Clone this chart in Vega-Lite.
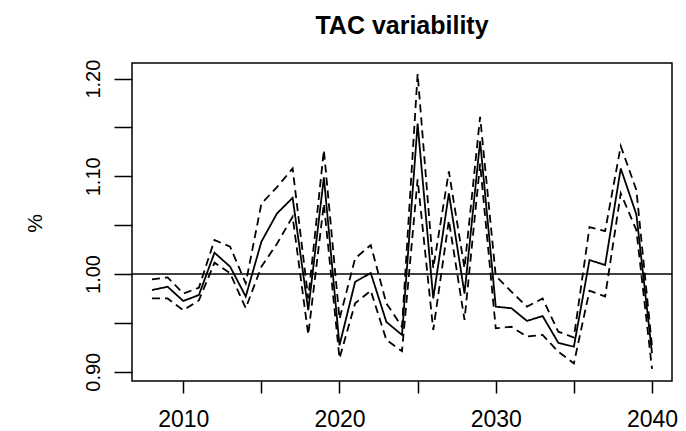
{
  "$schema": "https://vega.github.io/schema/vega-lite/v6.json",
  "width": 540,
  "height": 318,
  "autosize": {"type": "none"},
  "padding": {"left": 132, "top": 63, "right": 14, "bottom": 50},
  "background": "white",
  "config": {
    "view": {"stroke": "black", "strokeWidth": 1.5},
    "font": "Liberation Sans"
  },
  "title": {
    "text": "TAC variability",
    "font": "Liberation Sans",
    "fontSize": 25,
    "fontWeight": "bold",
    "color": "black",
    "frame": "group",
    "anchor": "middle",
    "baseline": "alphabetic",
    "offset": 0
  },
  "datasets": {
    "tac": [
      {"year": 2008, "series": "median", "value": 0.9836},
      {"year": 2009, "series": "median", "value": 0.987},
      {"year": 2010, "series": "median", "value": 0.9724},
      {"year": 2011, "series": "median", "value": 0.9785},
      {"year": 2012, "series": "median", "value": 1.0218},
      {"year": 2013, "series": "median", "value": 1.0075},
      {"year": 2014, "series": "median", "value": 0.977},
      {"year": 2015, "series": "median", "value": 1.033},
      {"year": 2016, "series": "median", "value": 1.062},
      {"year": 2017, "series": "median", "value": 1.078},
      {"year": 2018, "series": "median", "value": 0.963},
      {"year": 2019, "series": "median", "value": 1.099},
      {"year": 2020, "series": "median", "value": 0.927},
      {"year": 2021, "series": "median", "value": 0.992},
      {"year": 2022, "series": "median", "value": 1.001},
      {"year": 2023, "series": "median", "value": 0.951},
      {"year": 2024, "series": "median", "value": 0.9376},
      {"year": 2025, "series": "median", "value": 1.154},
      {"year": 2026, "series": "median", "value": 0.975},
      {"year": 2027, "series": "median", "value": 1.0826},
      {"year": 2028, "series": "median", "value": 0.98},
      {"year": 2029, "series": "median", "value": 1.136},
      {"year": 2030, "series": "median", "value": 0.9666},
      {"year": 2031, "series": "median", "value": 0.965},
      {"year": 2032, "series": "median", "value": 0.952},
      {"year": 2033, "series": "median", "value": 0.957},
      {"year": 2034, "series": "median", "value": 0.9297},
      {"year": 2035, "series": "median", "value": 0.9256},
      {"year": 2036, "series": "median", "value": 1.0143},
      {"year": 2037, "series": "median", "value": 1.0092},
      {"year": 2038, "series": "median", "value": 1.108},
      {"year": 2039, "series": "median", "value": 1.061},
      {"year": 2040, "series": "median", "value": 0.919},
      {"year": 2008, "series": "upper", "value": 0.9945},
      {"year": 2009, "series": "upper", "value": 0.9966},
      {"year": 2010, "series": "upper", "value": 0.98},
      {"year": 2011, "series": "upper", "value": 0.986},
      {"year": 2012, "series": "upper", "value": 1.0348},
      {"year": 2013, "series": "upper", "value": 1.028},
      {"year": 2014, "series": "upper", "value": 0.9905},
      {"year": 2015, "series": "upper", "value": 1.072},
      {"year": 2016, "series": "upper", "value": 1.089},
      {"year": 2017, "series": "upper", "value": 1.108},
      {"year": 2018, "series": "upper", "value": 0.975},
      {"year": 2019, "series": "upper", "value": 1.127},
      {"year": 2020, "series": "upper", "value": 0.954},
      {"year": 2021, "series": "upper", "value": 1.016},
      {"year": 2022, "series": "upper", "value": 1.0297},
      {"year": 2023, "series": "upper", "value": 0.97},
      {"year": 2024, "series": "upper", "value": 0.946},
      {"year": 2025, "series": "upper", "value": 1.205},
      {"year": 2026, "series": "upper", "value": 1.006},
      {"year": 2027, "series": "upper", "value": 1.105},
      {"year": 2028, "series": "upper", "value": 1.006},
      {"year": 2029, "series": "upper", "value": 1.161},
      {"year": 2030, "series": "upper", "value": 0.998},
      {"year": 2031, "series": "upper", "value": 0.982},
      {"year": 2032, "series": "upper", "value": 0.9666},
      {"year": 2033, "series": "upper", "value": 0.975},
      {"year": 2034, "series": "upper", "value": 0.941},
      {"year": 2035, "series": "upper", "value": 0.935},
      {"year": 2036, "series": "upper", "value": 1.048},
      {"year": 2037, "series": "upper", "value": 1.044},
      {"year": 2038, "series": "upper", "value": 1.131},
      {"year": 2039, "series": "upper", "value": 1.086},
      {"year": 2040, "series": "upper", "value": 0.926},
      {"year": 2008, "series": "lower", "value": 0.975},
      {"year": 2009, "series": "lower", "value": 0.975},
      {"year": 2010, "series": "lower", "value": 0.963},
      {"year": 2011, "series": "lower", "value": 0.973},
      {"year": 2012, "series": "lower", "value": 1.0116},
      {"year": 2013, "series": "lower", "value": 1.0007},
      {"year": 2014, "series": "lower", "value": 0.965},
      {"year": 2015, "series": "lower", "value": 1.0075},
      {"year": 2016, "series": "lower", "value": 1.031},
      {"year": 2017, "series": "lower", "value": 1.0587},
      {"year": 2018, "series": "lower", "value": 0.938},
      {"year": 2019, "series": "lower", "value": 1.072},
      {"year": 2020, "series": "lower", "value": 0.9137},
      {"year": 2021, "series": "lower", "value": 0.97},
      {"year": 2022, "series": "lower", "value": 0.983},
      {"year": 2023, "series": "lower", "value": 0.9325},
      {"year": 2024, "series": "lower", "value": 0.921},
      {"year": 2025, "series": "lower", "value": 1.097},
      {"year": 2026, "series": "lower", "value": 0.9427},
      {"year": 2027, "series": "lower", "value": 1.055},
      {"year": 2028, "series": "lower", "value": 0.953},
      {"year": 2029, "series": "lower", "value": 1.113},
      {"year": 2030, "series": "lower", "value": 0.9444},
      {"year": 2031, "series": "lower", "value": 0.946},
      {"year": 2032, "series": "lower", "value": 0.936},
      {"year": 2033, "series": "lower", "value": 0.9376},
      {"year": 2034, "series": "lower", "value": 0.9205},
      {"year": 2035, "series": "lower", "value": 0.9085},
      {"year": 2036, "series": "lower", "value": 0.983},
      {"year": 2037, "series": "lower", "value": 0.977},
      {"year": 2038, "series": "lower", "value": 1.0826},
      {"year": 2039, "series": "lower", "value": 1.045},
      {"year": 2040, "series": "lower", "value": 0.903}
    ],
    "ref": [{"level": 1.0}]
  },
  "layer": [
    {
      "data": {"name": "ref"},
      "mark": {"type": "rule", "color": "black", "strokeWidth": 1.3},
      "encoding": {
        "y": {"field": "level", "type": "quantitative", "scale": {"domain": [0.8905, 1.216], "nice": false, "zero": false}}
      }
    },
    {
      "data": {"name": "tac"},
      "mark": {"type": "line", "color": "black", "strokeWidth": 1.8},
      "encoding": {
        "x": {
          "field": "year",
          "type": "quantitative",
          "scale": {"domain": [2006.72, 2041.28], "nice": false, "zero": false},
          "axis": {
            "title": null,
            "values": [2010, 2015, 2020, 2025, 2030, 2035, 2040],
            "labelExpr": "datum.value % 10 == 0 ? format(datum.value, 'd') : ''",
            "domain": false,
            "grid": false,
            "tickColor": "black",
            "tickWidth": 1.5,
            "tickSize": 12,
            "labelFont": "Liberation Sans",
            "labelFontSize": 23,
            "labelColor": "black",
            "labelPadding": 15,
            "labelBaseline": "top",
            "labelFlush": false,
            "labelOverlap": false
          }
        },
        "y": {
          "field": "value",
          "type": "quantitative",
          "scale": {"domain": [0.8905, 1.216], "nice": false, "zero": false},
          "axis": {
            "title": "%",
            "titleFont": "Liberation Sans",
            "titleFontSize": 21,
            "titleFontWeight": "normal",
            "titleColor": "black",
            "titleAngle": -90,
            "titleAlign": "center",
            "titleBaseline": "middle",
            "titleX": -97,
            "titleY": 160,
            "values": [0.9, 0.95, 1.0, 1.05, 1.1, 1.15, 1.2],
            "labelExpr": "round(datum.value * 100) % 10 == 0 ? format(datum.value, '.2f') : ''",
            "domain": false,
            "grid": false,
            "tickColor": "black",
            "tickWidth": 1.5,
            "tickSize": 18,
            "labelFont": "Liberation Sans",
            "labelFontSize": 20,
            "labelColor": "black",
            "labelAngle": -90,
            "labelAlign": "center",
            "labelBaseline": "bottom",
            "labelPadding": 11,
            "labelFlush": false,
            "labelOverlap": false
          }
        },
        "detail": {"field": "series"},
        "strokeDash": {
          "field": "series",
          "type": "nominal",
          "scale": {"domain": ["median", "lower", "upper"], "range": [[1, 0], [8, 5], [8, 5]]},
          "legend": null
        }
      }
    }
  ]
}
